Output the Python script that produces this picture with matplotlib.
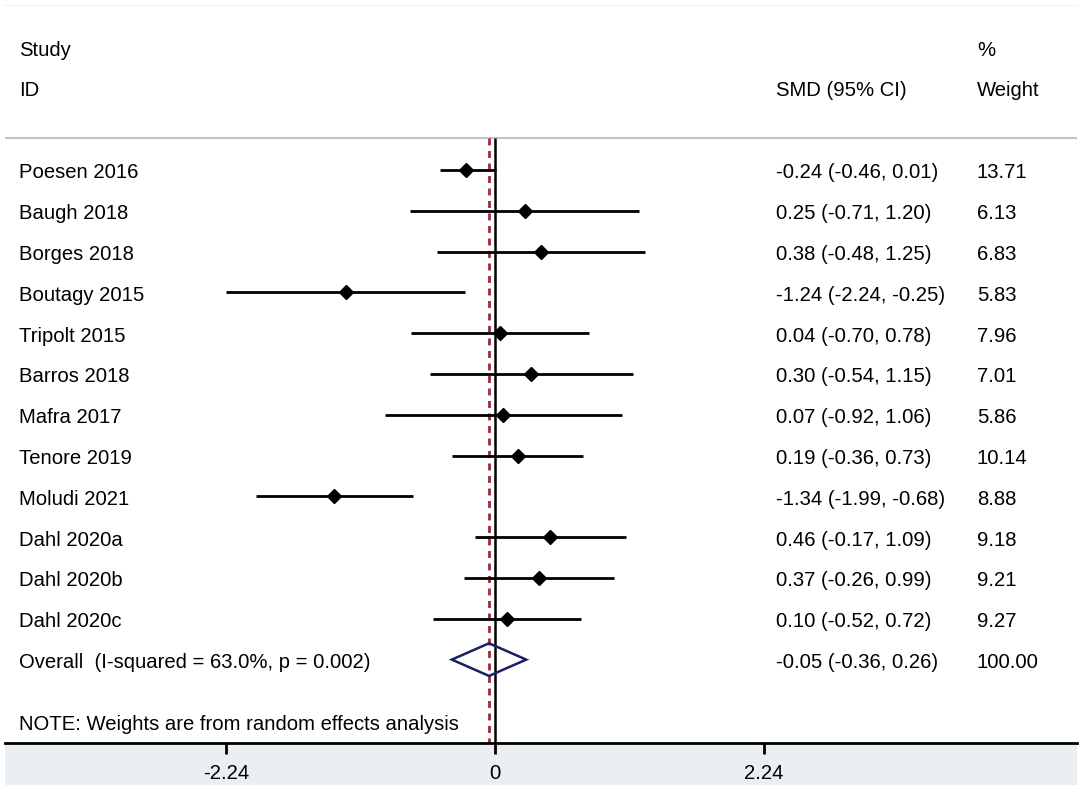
import matplotlib.pyplot as plt
from matplotlib.patches import Polygon, Rectangle
from matplotlib.transforms import blended_transform_factory

studies = ["Poesen 2016", "Baugh 2018", "Borges 2018", "Boutagy 2015", "Tripolt 2015",
           "Barros 2018", "Mafra 2017", "Tenore 2019", "Moludi 2021", "Dahl 2020a",
           "Dahl 2020b", "Dahl 2020c"]
smd = [-0.24, 0.25, 0.38, -1.24, 0.04, 0.30, 0.07, 0.19, -1.34, 0.46, 0.37, 0.10]
lo = [-0.46, -0.71, -0.48, -2.24, -0.70, -0.54, -0.92, -0.36, -1.99, -0.17, -0.26, -0.52]
hi = [0.01, 1.20, 1.25, -0.25, 0.78, 1.15, 1.06, 0.73, -0.68, 1.09, 0.99, 0.72]
weights = [13.71, 6.13, 6.83, 5.83, 7.96, 7.01, 5.86, 10.14, 8.88, 9.18, 9.21, 9.27]

overall_label = "Overall  (I-squared = 63.0%, p = 0.002)"
overall = (-0.05, -0.36, 0.26)
overall_weight = 100.00
note = "NOTE: Weights are from random effects analysis"
xticks = [-2.24, 0, 2.24]

plt.rcParams['font.family'] = ['Liberation Sans', 'DejaVu Sans']
fs = 14.6

W, H = 1084, 785
fig = plt.figure(figsize=(W / 100, H / 100), dpi=100)

# light band under the axis
fig.patches.append(Rectangle((5 / W, 0), (1077 - 5) / W, (H - 743) / H,
                             transform=fig.transFigure, facecolor="#e9eff2",
                             edgecolor="none", zorder=-1))
fig.add_artist(plt.Line2D([5 / W, 1077 / W], [1 - 5 / H, 1 - 5 / H],
                          transform=fig.transFigure, color="#eef3f4", lw=1, zorder=-1))

# axes: x pixels 5..1077, y pixels 0..743
ax = fig.add_axes([5 / W, (H - 743) / H, (1077 - 5) / W, 743 / H])
ax.set_zorder(2)
ax.patch.set_alpha(0)
x0, px = 495, 120.0
row0, rowh = 170, 40.8
ax.set_xlim((5 - x0) / px, (1077 - x0) / px)
ax.set_ylim((743 - row0) / rowh, -row0 / rowh)

for s in ["top", "left", "right"]:
    ax.spines[s].set_visible(False)
ax.spines["bottom"].set_linewidth(2)
ax.set_yticks([])
ax.set_xticks(xticks)
ax.set_xticklabels(["-2.24", "0", "2.24"], fontsize=fs)
ax.tick_params(axis="x", direction="out", length=8, width=2, pad=7)

sep = -0.784
bottom = (743 - row0) / rowh
ax.axhline(sep, color="#c4c4c4", lw=1.5)
ax.vlines(0, sep, bottom, color="black", lw=1.8)
ax.vlines(overall[0], sep, bottom, color="#9e2a3a", lw=2, linestyles=(0, (2.5, 2)))

rows = list(range(len(studies)))
ax.hlines(rows, lo, hi, color="black", lw=2)
ax.plot(smd, rows, linestyle="none", marker="D", color="black", markersize=7)

# overall diamond
yo = len(studies)
dh = 0.4
ax.add_patch(Polygon([(overall[1], yo), (overall[0], yo - dh), (overall[2], yo),
                      (overall[0], yo + dh)], closed=True, fill=False,
                     edgecolor="#1b1f66", lw=1.8, zorder=4))

tr = blended_transform_factory(fig.transFigure, ax.transData)
xl, xs, xw = 19 / W, 776 / W, 977 / W
dy = 0.07


def put(x, y, s):
    ax.text(x, y + dy, s, transform=tr, fontsize=fs, va="center")


put(xl, -2.99, "Study")
put(xl, -2.01, "ID")
put(xs, -2.01, "SMD (95% CI)")
put(xw, -2.99, "%")
put(xw, -2.01, "Weight")

for i, name in enumerate(studies):
    put(xl, i, name)
    put(xs, i, f"{smd[i]:.2f} ({lo[i]:.2f}, {hi[i]:.2f})")
    put(xw, i, f"{weights[i]:.2f}")

put(xl, yo, overall_label)
put(xs, yo, f"{overall[0]:.2f} ({overall[1]:.2f}, {overall[2]:.2f})")
put(xw, yo, f"{overall_weight:.2f}")
put(xl, 13.53, note)

fig.savefig("out.png", dpi=100)
